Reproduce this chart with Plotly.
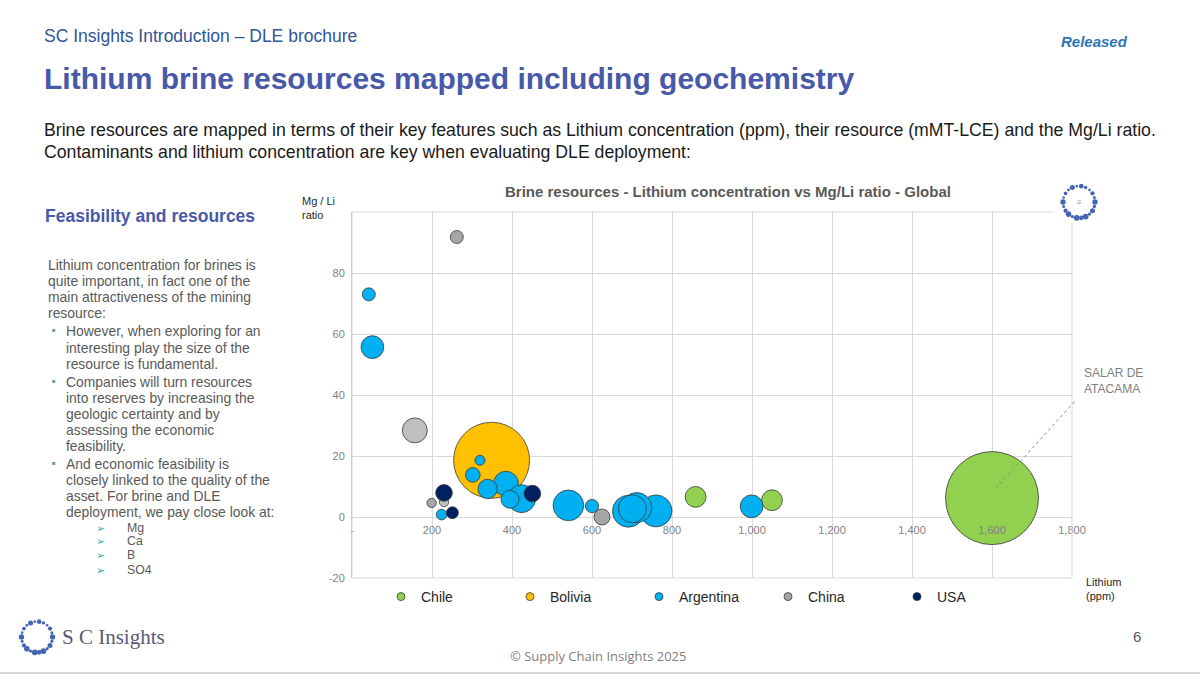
import math
import plotly.graph_objects as go

# ---------------- data ----------------
countries = ["Chile", "Bolivia", "Argentina", "China", "USA"]

chile_li = [859, 1050, 1600]
chile_mgli = [6.6, 5.5, 6.2]
chile_res = [2.5, 2.5, 50.0]

bolivia_li = [349]
bolivia_mgli = [18.6]
bolivia_res = [33.4]

argentina_li = [42, 51, 320, 302, 385, 339, 424, 395, 224, 541, 600, 691, 760, 712, 701, 999]
argentina_mgli = [73.0, 55.7, 18.6, 13.8, 10.9, 9.2, 6.0, 5.8, 0.8, 3.8, 3.6, 1.9, 2.0, 3.1, 2.7, 3.5]
argentina_res = [0.98, 3.0, 0.58, 1.25, 3.6, 2.15, 4.5, 1.87, 0.66, 5.45, 1.02, 5.9, 5.9, 5.2, 4.5, 3.0]

china_li = [262, 157, 199, 230, 625]
china_mgli = [91.8, 28.4, 4.6, 4.9, 0.0]
china_res = [0.98, 3.6, 0.5, 0.5, 1.48]

usa_li = [230, 451, 251]
usa_mgli = [7.9, 7.7, 1.4]
usa_res = [1.6, 1.6, 0.83]

x_tickvals = [0, 200, 400, 600, 800, 1000, 1200, 1400, 1600, 1800]
x_ticktext = ["-", "200", "400", "600", "800", "1,000", "1,200", "1,400", "1,600", "1,800"]
y_tickvals = [-20, 0, 20, 40, 60, 80, 100]
y_ticktext = ["-20", "0", "20", "40", "60", "80", ""]

annot_label = "SALAR DE<br>ATACAMA"
annot_index = 2  # Atacama within Chile series

# ---------------- styles ----------------
colors = {"Chile": "#92D050", "Bolivia": "#FFC000", "Argentina": "#00B0F0",
          "China": "#A5A5A5", "USA": "#002060"}
china_point_colors = ["#A6A6A6", "#BFBFBF", "#A6A6A6", "#BFBFBF", "#A6A6A6"]
outline = "#3A3A3A"
grid_c = "#D9D9D9"
FONT = "Liberation Sans"

W_FIG, H_FIG = 1200, 676
L, R, T, B = 352, 1072, 212, 578
PW, PH = R - L, B - T
XR = [0, 1800]
YR = [-20, 100]

all_res = chile_res + bolivia_res + argentina_res + china_res + usa_res
DMAX = 93
sizeref = 2.0 * max(all_res) / DMAX ** 2


def px_x(px):
    return (px - L) / PW


def px_y(py):
    return (B - py) / PH


def dx_paper(v):
    return (v - XR[0]) / (XR[1] - XR[0])


def dy_paper(v):
    return (v - YR[0]) / (YR[1] - YR[0])


fig = go.Figure()

series = [
    ("Chile", chile_li, chile_mgli, chile_res, colors["Chile"]),
    ("Bolivia", bolivia_li, bolivia_mgli, bolivia_res, colors["Bolivia"]),
    ("Argentina", argentina_li, argentina_mgli, argentina_res, colors["Argentina"]),
    ("China", china_li, china_mgli, china_res, china_point_colors),
    ("USA", usa_li, usa_mgli, usa_res, colors["USA"]),
]
for name, xs, ys, ss, col in series:
    fig.add_trace(go.Scatter(
        x=xs, y=ys, mode="markers", name=name, showlegend=False,
        marker=dict(size=ss, sizemode="area", sizeref=sizeref, color=col,
                    opacity=1, line=dict(color=outline, width=0.8)),
        hovertemplate=name + "<br>Li %{x} ppm<br>Mg/Li %{y}<extra></extra>",
    ))

# legend entries
for name in countries:
    fig.add_trace(go.Scatter(
        x=[None], y=[None], mode="markers", name=name, showlegend=True,
        marker=dict(size=8, color=colors[name], line=dict(color=outline, width=0.8)),
    ))

fig.update_layout(
    width=W_FIG, height=H_FIG,
    margin=dict(l=L, r=W_FIG - R, t=T, b=H_FIG - B, pad=0),
    paper_bgcolor="white", plot_bgcolor="white",
    font=dict(family=FONT, color="#595959"),
    showlegend=True,
    legend=dict(orientation="h", x=px_x(381), xanchor="left", y=px_y(597), yanchor="middle",
                font=dict(size=14, color="#262626", family=FONT),
                entrywidth=84, itemwidth=30, tracegroupgap=0, bgcolor="rgba(0,0,0,0)"),
    xaxis=dict(range=XR, tickvals=x_tickvals, ticktext=x_ticktext, showgrid=True,
               gridcolor=grid_c, gridwidth=1, zeroline=False, showline=False,
               anchor="free", position=dy_paper(0), ticks="", ticklabelstandoff=5,
               tickfont=dict(size=11, color="#7F7F7F", family=FONT)),
    yaxis=dict(range=YR, tickvals=y_tickvals, ticktext=y_ticktext, showgrid=True,
               gridcolor=grid_c, gridwidth=1, zeroline=False, showline=True,
               linecolor="#BFBFBF", linewidth=1, ticks="", ticklabelstandoff=4,
               tickfont=dict(size=11, color="#7F7F7F", family=FONT)),
)

shapes = []
# plot border
shapes.append(dict(type="rect", xref="paper", yref="paper", x0=0, y0=0, x1=1, y1=1,
                   line=dict(color=grid_c, width=1), layer="above"))
# leader line to Atacama label
ax_ = dx_paper(chile_li[annot_index] + 10)
ay_ = dy_paper(chile_mgli[annot_index] + 3.2)
shapes.append(dict(type="line", xref="paper", yref="paper", x0=ax_, y0=ay_,
                   x1=px_x(1076), y1=px_y(400), line=dict(color="#8C8C8C", width=1, dash="dot")))
# white patch behind chart logo
shapes.append(dict(type="rect", xref="paper", yref="paper", x0=px_x(1055), x1=px_x(1102),
                   y0=px_y(223), y1=px_y(180), line=dict(width=0), fillcolor="white"))
# footer line
shapes.append(dict(type="line", xref="paper", yref="paper", x0=px_x(0), x1=px_x(1200),
                   y0=px_y(673), y1=px_y(673), line=dict(color="#C8C8C8", width=1.5)))

# logo dot sizes (radius in px), going counter-clockwise from the right
logo_dot_r = [2.7, 1.5, 2.1, 1.3, 1.7, 2.3, 1.3, 2.5, 1.4, 1.9, 1.3, 2.7,
              1.5, 2.1, 2.8, 1.6, 2.9, 2.3, 2.9, 1.6, 2.5, 1.7]


def dot_ring(cx, cy, rad, col="#4464B4"):
    n = len(logo_dot_r)
    for i, s in enumerate(logo_dot_r):
        ang = 2 * math.pi * i / n
        dx = rad * math.cos(ang)
        dy = rad * math.sin(ang)
        shapes.append(dict(type="circle", xref="paper", yref="paper",
                           xsizemode="pixel", ysizemode="pixel",
                           xanchor=px_x(cx), yanchor=px_y(cy),
                           x0=dx - s, x1=dx + s, y0=dy - s, y1=dy + s,
                           fillcolor=col, line=dict(width=0)))


dot_ring(1079, 202, 16)
dot_ring(37, 637, 15.5)
fig.update_layout(shapes=shapes)


def ann(text, px, py, size, color, xanchor="left", family=FONT, align="left"):
    fig.add_annotation(x=px_x(px), y=px_y(py), xref="paper", yref="paper", text=text,
                       showarrow=False, xanchor=xanchor, yanchor="middle", align=align,
                       font=dict(size=size, color=color, family=family))


# chart texts
ann("<b>Brine resources - Lithium concentration vs Mg/Li ratio - Global</b>", 728, 191, 15,
    "#595959", xanchor="center")
ann("Mg / Li<br>ratio", 300, 208, 11, "#262626")
ann("Lithium<br>(ppm)", 1084, 589, 11, "#262626")
ann(annot_label, 1082, 381, 12, "#7F7F7F")
ann("≡", 1079, 202, 8, "#9A9A9A", xanchor="center")

# slide header
ann("SC Insights Introduction – DLE brochure", 42, 36, 17.5, "#2F5597")
ann("<b><i>Released</i></b>", 1059, 41, 15, "#2E75B6")
ann("<b>Lithium brine resources mapped including geochemistry</b>", 42, 78, 30, "#4759A8")
ann("Brine resources are mapped in terms of their key features such as Lithium concentration (ppm), "
    "their resource (mMT-LCE) and the Mg/Li ratio.", 42, 130, 17.7, "#1A1A1A")
ann("Contaminants and lithium concentration are key when evaluating DLE deployment:", 42, 152,
    17.7, "#1A1A1A")

# left panel
ann("<b>Feasibility and resources</b>", 43, 216, 17.5, "#4759A8")
body = "#595959"
left_lines = [
    (46, 265, "Lithium concentration for brines is"),
    (46, 281, "quite important, in fact one of the"),
    (46, 297, "main attractiveness of the mining"),
    (46, 313, "resource:"),
    (64, 331, "However, when exploring for an"),
    (64, 348, "interesting play the size of the"),
    (64, 364, "resource is fundamental."),
    (64, 382, "Companies will turn resources"),
    (64, 398, "into reserves by increasing the"),
    (64, 414, "geologic certainty and by"),
    (64, 430, "assessing the economic"),
    (64, 446, "feasibility."),
    (64, 464, "And economic feasibility is"),
    (64, 480, "closely linked to the quality of the"),
    (64, 496, "asset. For brine and DLE"),
    (64, 512, "deployment, we pay close look at:"),
]
for x0, y0, t in left_lines:
    ann(t, x0, y0, 13.9, body)
for yb in (331, 382, 464):
    ann("■", 50, yb - 1, 6, "#5E9CA6")
for yb, t in ((528, "Mg"), (541, "Ca"), (555, "B"), (570, "SO4")):
    ann("➢", 94, yb, 11, "#3FA7B8")
    ann(t, 125, yb, 12.3, body)

# footer
ann("S C Insights", 60, 637, 21, "#5A5A7A", family="Liberation Serif")
ann("6", 1137, 636, 15, "#595959", xanchor="center")
ann("© Supply Chain Insights 2025", 598, 656, 13, "#7F7F7F", xanchor="center", family="Open Sans")

fig.write_html("out.html", config={"displayModeBar": False},
               post_script="document.body.style.margin='0';document.body.style.overflow='hidden';")
